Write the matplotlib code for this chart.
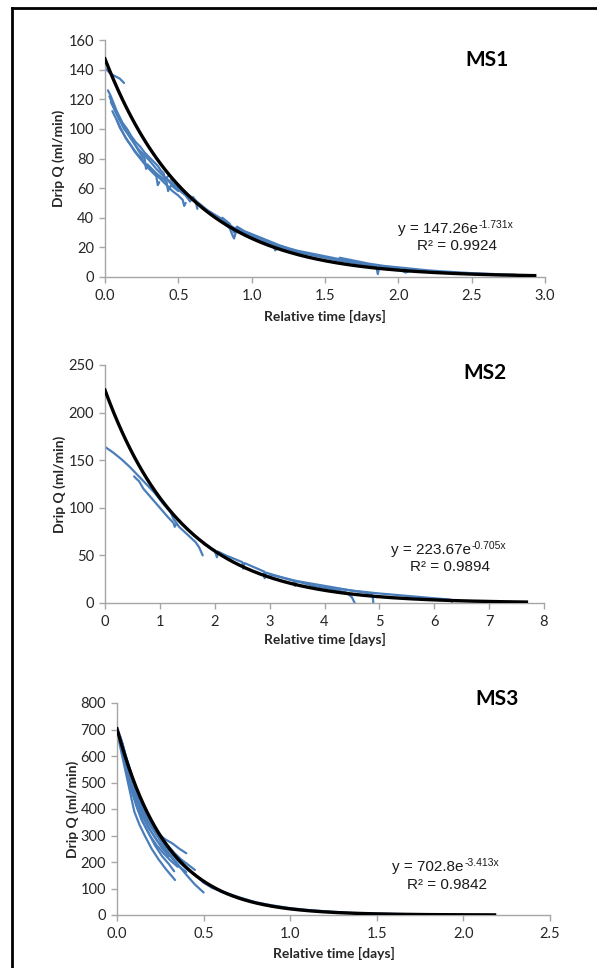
import numpy as np
import matplotlib
matplotlib.use("Agg")
import matplotlib.pyplot as plt
from matplotlib.lines import Line2D

plt.rcParams['font.family'] = ['Lato', 'DejaVu Sans']
plt.rcParams['mathtext.fontset'] = 'custom'
plt.rcParams['mathtext.rm'] = 'Liberation Sans'
plt.rcParams['mathtext.it'] = 'Liberation Sans'

# ---------------- data ----------------
titles = ["MS1", "MS2", "MS3"]
fit_a = [147.26, 223.67, 702.8]
fit_b = [-1.731, -0.705, -3.413]
fit_xmax = [2.93, 7.68, 2.18]
r2 = [0.9924, 0.9894, 0.9842]
eq_main = ["y = 147.26e", "y = 223.67e", "y = 702.8e"]
eq_exp = ["-1.731x", "-0.705x", "-3.413x"]

xlims = [(0, 3.0), (0, 8), (0, 2.5)]
xticks = [[0.0, 0.5, 1.0, 1.5, 2.0, 2.5, 3.0], [0, 1, 2, 3, 4, 5, 6, 7, 8], [0.0, 0.5, 1.0, 1.5, 2.0, 2.5]]
xtick_labels = [["0.0", "0.5", "1.0", "1.5", "2.0", "2.5", "3.0"],
                ["0", "1", "2", "3", "4", "5", "6", "7", "8"],
                ["0.0", "0.5", "1.0", "1.5", "2.0", "2.5"]]
ylims = [(0, 160), (0, 250), (0, 800)]
yticks = [[0, 20, 40, 60, 80, 100, 120, 140, 160], [0, 50, 100, 150, 200, 250],
          [0, 100, 200, 300, 400, 500, 600, 700, 800]]

# observed recession segments (x in days, y in ml/min)
ms1_x = [
    [0.00, 0.02, 0.04, 0.06, 0.08, 0.10, 0.12, 0.13],
    [0.02, 0.04, 0.06, 0.08, 0.10, 0.12, 0.15, 0.18, 0.21, 0.24, 0.27, 0.30, 0.33, 0.36, 0.38, 0.40, 0.41, 0.44],
    [0.03, 0.05, 0.07, 0.10, 0.13, 0.16, 0.20, 0.23, 0.26, 0.30, 0.35, 0.40, 0.45, 0.50, 0.55, 0.60, 0.62, 0.63],
    [0.04, 0.07, 0.10, 0.13, 0.16, 0.20, 0.23, 0.25, 0.27, 0.28, 0.29, 0.32, 0.35, 0.40, 0.42, 0.43, 0.45, 0.50],
    [0.05, 0.08, 0.11, 0.14, 0.17, 0.20, 0.24, 0.28, 0.32, 0.35, 0.36, 0.37],
    [0.08, 0.10, 0.13, 0.16, 0.19, 0.22, 0.25, 0.28, 0.31, 0.34, 0.37, 0.40, 0.43, 0.46, 0.50, 0.53, 0.54, 0.55],
    [0.45, 0.50, 0.55, 0.60, 0.65, 0.70, 0.75, 0.80, 0.85, 0.90, 0.95, 1.00, 1.05],
    [0.40, 0.45, 0.50, 0.55, 0.58, 0.60, 0.63, 0.66, 0.70],
    [0.70, 0.75, 0.80, 0.85, 0.87, 0.88, 0.90, 0.95, 1.00, 1.10, 1.15, 1.16, 1.20, 1.30, 1.40, 1.50, 1.60, 1.70, 1.80],
    [0.80, 0.85, 0.88, 0.90, 0.95, 1.00, 1.05, 1.10, 1.15, 1.20, 1.25, 1.30],
    [1.00, 1.10, 1.20, 1.30, 1.40, 1.50, 1.60, 1.70, 1.80, 1.85, 1.86, 1.87, 1.90, 2.00, 2.05, 2.10],
    [1.60, 1.70, 1.80, 1.90, 2.00, 2.10, 2.20, 2.30, 2.40, 2.50, 2.60, 2.70, 2.80],
]
ms1_y = [
    [141, 139, 137, 136, 135, 134, 132, 131],
    [126, 122, 117, 112, 108, 104, 100, 95, 91, 88, 84, 81, 78, 75, 72, 70, 66, 69],
    [122, 117, 112, 106, 101, 96, 90, 86, 83, 79, 73, 68, 64, 60, 56, 53, 50, 46],
    [118, 112, 106, 100, 96, 90, 85, 82, 80, 73, 76, 73, 70, 66, 64, 58, 62, 58],
    [112, 106, 100, 94, 90, 85, 80, 75, 71, 68, 62, 64],
    [106, 101, 96, 91, 87, 83, 80, 76, 73, 70, 67, 64, 61, 58, 55, 52, 48, 50],
    [66, 62, 57, 53, 49, 45, 42, 39, 35, 32, 30, 28, 26],
    [68, 63, 59, 55, 51, 54, 50, 47, 44],
    [44, 40, 37, 33, 28, 26, 33, 30, 28, 24, 22, 18, 21, 18, 16, 14, 12, 10, 8],
    [40, 36, 30, 34, 31, 29, 27, 25, 23, 21, 19, 18],
    [27, 23, 20, 17, 15, 13, 11, 9.5, 8, 7, 2, 7, 6.5, 5.5, 3, 5],
    [13, 11, 9, 7.5, 6.5, 5.5, 4.5, 3.8, 3.2, 2.6, 2.2, 1.8, 1.5],
]

ms2_x = [
    [0.00, 0.15, 0.30, 0.45, 0.60, 0.75, 0.90, 1.05, 1.20, 1.25, 1.28, 1.35, 1.50, 1.65, 1.72, 1.78],
    [0.53, 0.58, 0.62, 0.70, 0.85, 1.00, 1.15, 1.25, 1.27, 1.30],
    [1.80, 2.00, 2.04, 2.06, 2.20, 2.50, 2.52, 2.54, 2.70, 2.90, 2.91, 2.93, 3.10, 3.45, 3.46, 3.48, 3.80, 4.10, 4.40, 4.50, 4.55],
    [3.00, 3.50, 4.00, 4.50, 4.85, 4.88, 4.89],
    [4.00, 4.50, 5.00, 5.50, 6.00, 6.30, 6.32],
]
ms2_y = [
    [164, 158, 151, 143, 134, 125, 116, 105, 95, 88, 86, 80, 72, 64, 58, 50],
    [133, 130, 128, 120, 110, 100, 90, 84, 80, 83],
    [62, 55, 48, 54, 50, 43, 36, 42, 38, 33, 26, 32, 29, 23, 18, 23, 18, 15, 11, 6, 0],
    [30, 23, 18, 13, 10, 6, 0],
    [17, 13, 10, 7.5, 5, 3.5, 1],
]

ms3_x = [
    [0.01, 0.03, 0.05, 0.08, 0.10, 0.13, 0.16, 0.20, 0.24, 0.28, 0.32, 0.36, 0.40],
    [0.01, 0.03, 0.05, 0.08, 0.10, 0.13, 0.16, 0.20, 0.24, 0.28, 0.335],
    [0.02, 0.04, 0.06, 0.09, 0.12, 0.15, 0.19, 0.23, 0.27, 0.31, 0.35],
    [0.03, 0.05, 0.08, 0.11, 0.14, 0.18, 0.22, 0.26, 0.30, 0.33],
    [0.02, 0.05, 0.08, 0.12, 0.16, 0.20, 0.25, 0.30, 0.35, 0.40, 0.45, 0.50],
    [0.03, 0.06, 0.10, 0.14, 0.18, 0.22, 0.26, 0.30, 0.35, 0.40, 0.45, 0.50, 0.55, 0.60, 0.70, 0.80, 0.90, 1.00, 1.10, 1.20, 1.30],
    [0.02, 0.05, 0.08, 0.11, 0.15, 0.19, 0.23, 0.27, 0.32, 0.36, 0.40],
    [0.04, 0.07, 0.10, 0.14, 0.18, 0.22, 0.26, 0.30],
    [0.01, 0.03, 0.05, 0.07, 0.10, 0.13, 0.17, 0.21, 0.25, 0.29, 0.33, 0.37, 0.41, 0.45],
    [0.02, 0.04, 0.07, 0.10, 0.14, 0.18, 0.22, 0.26, 0.30, 0.34, 0.38],
    [0.50, 0.60, 0.70, 0.80, 0.90, 1.00, 1.20, 1.40, 1.60, 1.80, 2.00, 2.15],
]
ms3_y = [
    [680, 640, 580, 510, 460, 410, 370, 330, 305, 285, 270, 250, 233],
    [660, 600, 540, 450, 390, 340, 300, 250, 210, 175, 132],
    [650, 590, 530, 460, 400, 350, 300, 262, 232, 205, 182],
    [620, 560, 480, 415, 362, 312, 262, 222, 192, 165],
    [670, 600, 520, 440, 380, 330, 280, 232, 192, 152, 115, 85],
    [650, 580, 490, 420, 360, 320, 282, 245, 205, 175, 152, 122, 102, 90, 68, 48, 36, 26, 19, 14, 10],
    [640, 570, 500, 432, 372, 322, 282, 252, 212, 182, 162],
    [600, 520, 452, 382, 332, 292, 252, 222],
    [690, 650, 600, 560, 500, 440, 390, 340, 300, 265, 235, 210, 190, 170],
    [670, 620, 550, 480, 410, 360, 320, 285, 252, 222, 198],
    [125, 88, 66, 46, 32, 23, 12, 7, 4, 2, 1.5, 1],
]

all_x = [ms1_x, ms2_x, ms3_x]
all_y = [ms1_y, ms2_y, ms3_y]

# ---------------- layout ----------------
W, H = 597, 968
fig = plt.figure(figsize=(W / 100, H / 100), dpi=100)

def fx(px):
    return px / W

def fy(py):
    return 1 - py / H

axes_px = [(105, 40, 545, 277), (105, 365, 544, 603), (117, 703, 550, 915)]
title_px = [(487, 60), (485, 373), (497, 699)]
eq_px = [(457, 229, 246), (450, 550, 567), (447, 867, 885)]
ylab_px = [59, 60, 73]
xlab_py = [316, 639, 953]

blue = '#4A7EBB'
grey = '#A6A6A6'
txtc = '#262626'

for i in range(3):
    l, t, r, b = axes_px[i]
    ax = fig.add_axes([fx(l), fy(b), (r - l) / W, (b - t) / H])
    for xs, ys in zip(all_x[i], all_y[i]):
        ax.plot(xs, ys, color=blue, lw=1.6, solid_joinstyle='round', solid_capstyle='round', zorder=2)
    xf = np.linspace(0, fit_xmax[i], 300)
    ax.plot(xf, fit_a[i] * np.exp(fit_b[i] * xf), color='black', lw=2.4, zorder=3)

    ax.set_xlim(*xlims[i])
    ax.set_ylim(*ylims[i])
    ax.set_xticks(xticks[i])
    ax.set_xticklabels(xtick_labels[i])
    ax.set_yticks(yticks[i])
    for s in ['top', 'right']:
        ax.spines[s].set_visible(False)
    for s in ['left', 'bottom']:
        ax.spines[s].set_color(grey)
        ax.spines[s].set_linewidth(1.0)
    ax.tick_params(axis='both', direction='out', length=4, width=1.0, color=grey,
                   labelsize=10.5, labelcolor=txtc)
    ax.tick_params(axis='x', pad=5)
    ax.tick_params(axis='y', pad=4)
    ax.patch.set_alpha(0)
    for spine in ax.spines.values():
        spine.set_clip_on(False)

    fig.text(fx((l + r) / 2), fy(xlab_py[i]), "Relative time [days]", ha='center', va='center',
             fontsize=10, fontweight='bold', color=txtc)
    fig.text(fx(ylab_px[i]), fy((t + b) / 2), "Drip Q (ml/min)", ha='center', va='center',
             rotation=90, fontsize=10, fontweight='bold', color=txtc)
    fig.text(fx(title_px[i][0]), fy(title_px[i][1]), titles[i], ha='center', va='center',
             fontsize=15, fontweight='bold', color='black')
    ex, ey1, ey2 = eq_px[i]
    t1 = fig.text(fx(ex) - 0.032, fy(ey1), eq_main[i], ha='center', va='center', fontsize=11,
                  family='Liberation Sans', color='#1a1a1a')
    fig.canvas.draw()
    bb = t1.get_window_extent()
    fig.text(bb.x1 / (W) + 0.001, fy(ey1 - 4), eq_exp[i], ha='left', va='center', fontsize=7.5,
             family='Liberation Sans', color='#1a1a1a')
    fig.text(fx(ex), fy(ey2), "R² = %.4f" % r2[i], ha='center', va='center', fontsize=11,
             family='Liberation Sans', color='#1a1a1a')

# frame (left and top edges visible)
fig.add_artist(Line2D([fx(12), fx(12)], [fy(8), 0], color='black', lw=2.0, transform=fig.transFigure))
fig.add_artist(Line2D([fx(12), 1], [fy(8), fy(8)], color='black', lw=2.0, transform=fig.transFigure))

fig.savefig("out.png", dpi=100, facecolor='white')
